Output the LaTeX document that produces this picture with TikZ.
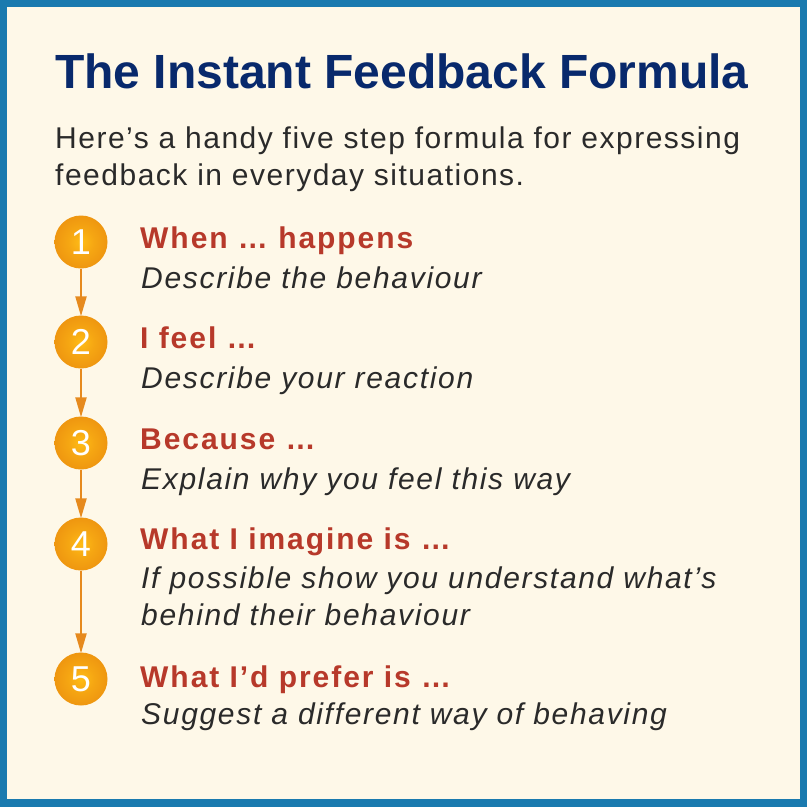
\documentclass[tikz,border=0pt]{standalone}
\usepackage{fontspec}
\setmainfont{Liberation Sans}
\newfontfamily\widefont[LetterSpace=5.0]{Liberation Sans}
\newfontfamily\wideboldfont[LetterSpace=6.5]{Liberation Sans Bold}
\newfontfamily\wideitfont[LetterSpace=5.6]{Liberation Sans Italic}
\usetikzlibrary{arrows.meta}

\definecolor{framebl}{HTML}{1A7AAF}
\definecolor{paper}{HTML}{FEF8E8}
\definecolor{titleblue}{HTML}{08296C}
\definecolor{headred}{HTML}{B7392A}
\definecolor{bodygray}{HTML}{2A2A2A}
\definecolor{ballin}{HTML}{FFBC16}
\definecolor{ballout}{HTML}{E47E0C}
\definecolor{arrorange}{HTML}{E68A1E}

\pgfdeclareradialshading{stepball}{\pgfpoint{0bp}{0bp}}{%
  color(0bp)=(ballin); color(12bp)=(ballin!65!ballout);
  color(45bp)=(ballout); color(50bp)=(ballout!90!black);
  color(100bp)=(ballout!90!black)}

\tikzset{
  titletext/.style={anchor=base west, inner sep=0pt, text=titleblue,
    font=\fontsize{48bp}{55bp}\selectfont\bfseries},
  introtext/.style={anchor=base west, inner sep=0pt, text=bodygray,
    font=\fontsize{30bp}{37bp}\selectfont\widefont},
  headtext/.style={anchor=base west, inner sep=0pt, text=headred,
    font=\fontsize{30bp}{37bp}\selectfont\wideboldfont},
  desctext/.style={anchor=base west, inner sep=0pt, text=bodygray,
    font=\fontsize{30bp}{37bp}\selectfont\wideitfont},
  stepball/.style={circle, minimum size=53bp, inner sep=0pt,
    shading=stepball, text=white, font=\fontsize{36bp}{36bp}\selectfont},
  steparrow/.style={draw=arrorange, line width=2.2bp,
    -{Triangle[length=20bp, width=11bp]}, shorten >=-1bp},
}

\begin{document}
\begin{tikzpicture}[x=1bp, y=-1bp]
    % Rahmen und Hintergrund
    \fill[framebl] (0,0) rectangle (807,807);
    \fill[paper] (7,7) rectangle (800,799);
    \useasboundingbox (0,0) rectangle (807,807);

    % Titel und Einleitung
    \node[titletext] (title) at (55,88) {The Instant Feedback Formula};
    \node[introtext] (intro1) at (55,148) {Here’s a handy five step formula for expressing};
    \node[introtext] (intro2) at (55,185) {feedback in everyday situations.};

    % Kreise mit Nummern
    \node[stepball] (c1) at (81,242) {1};
    \node[stepball] (c2) at (81,342) {2};
    \node[stepball] (c3) at (81,443) {3};
    \node[stepball] (c4) at (81,544) {4};
    \node[stepball] (c5) at (81,679) {5};

    % Pfeile zwischen den Kreisen
    \draw[steparrow] (c1) -- (c2);
    \draw[steparrow] (c2) -- (c3);
    \draw[steparrow] (c3) -- (c4);
    \draw[steparrow] (c4) -- (c5);

    % Schritte
    \node[headtext] (h1) at (140,248) {When … happens};
    \node[desctext] (d1) at (141,288) {Describe the behaviour};

    \node[headtext] (h2) at (140,348) {I feel …};
    \node[desctext] (d2) at (141,388) {Describe your reaction};

    \node[headtext] (h3) at (140,449) {Because …};
    \node[desctext] (d3) at (141,489) {Explain why you feel this way};

    \node[headtext] (h4) at (140,549) {What I imagine is …};
    \node[desctext] (d4) at (141,588) {If possible show you understand what’s};
    \node[desctext] (d4b) at (141,625) {behind their behaviour};

    \node[headtext] (h5) at (140,687) {What I’d prefer is …};
    \node[desctext] (d5) at (141,724) {Suggest a different way of behaving};
\end{tikzpicture}
\end{document}
